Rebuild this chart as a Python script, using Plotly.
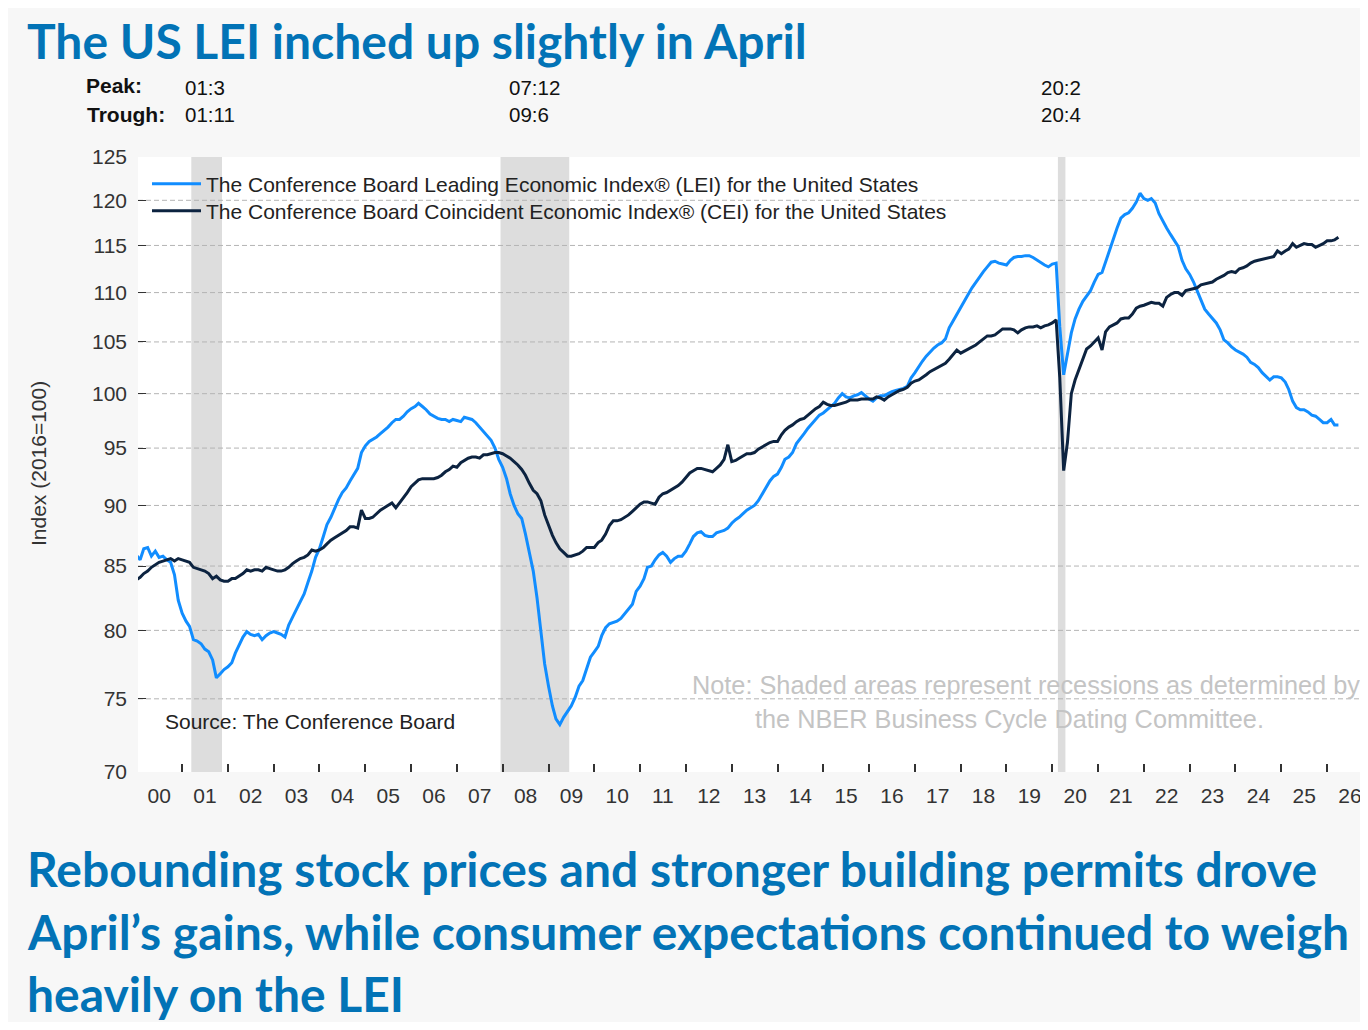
import math
import pandas as pd
import plotly.graph_objects as go

# ---------------- data (monthly, Jan 2000 - Apr 2026) ----------------
lei = [
    85.9, 85.5, 86.4, 86.5, 85.8, 86.2, 85.7, 85.8, 85.5, 85.3, 84.3, 82.3,   # 2000
    81.3, 80.7, 80.3, 79.3, 79.2, 79.0, 78.6, 78.4, 77.8, 76.5, 76.8, 77.1,   # 2001
    77.3, 77.6, 78.3, 78.9, 79.5, 79.9, 79.7, 79.6, 79.7, 79.3, 79.6, 79.8,   # 2002
    79.9, 79.8, 79.7, 79.5, 80.4, 81.0, 81.6, 82.2, 82.8, 83.7, 84.6, 85.7,   # 2003
    86.4, 87.4, 88.4, 89.0, 89.8, 90.5, 91.1, 91.5, 92.1, 92.7, 93.2, 94.6,   # 2004
    95.2, 95.6, 95.8, 96.0, 96.3, 96.6, 96.9, 97.3, 97.6, 97.6, 97.9, 98.3,   # 2005
    98.6, 98.8, 99.1, 98.8, 98.5, 98.1, 97.9, 97.7, 97.6, 97.6, 97.4, 97.6,   # 2006
    97.5, 97.4, 97.8, 97.7, 97.6, 97.3, 96.9, 96.5, 96.0, 95.7, 95.0, 94.0,   # 2007
    93.3, 92.3, 91.0, 90.0, 89.3, 88.9, 87.6, 86.0, 84.6, 82.5, 80.1, 77.5,   # 2008
    75.9, 74.5, 73.6, 73.2, 73.7, 74.1, 74.5, 75.1, 75.9, 76.3, 77.2, 78.0,   # 2009
    78.4, 78.8, 79.6, 80.2, 80.5, 80.6, 80.7, 80.9, 81.3, 81.6, 82.0, 83.0,   # 2010
    83.4, 84.0, 84.9, 85.0, 85.5, 85.9, 86.1, 85.8, 85.3, 85.6, 85.8, 85.8,   # 2011
    86.2, 86.8, 87.4, 87.7, 87.8, 87.5, 87.4, 87.4, 87.7, 87.8, 87.9, 88.1,   # 2012
    88.5, 88.8, 89.0, 89.3, 89.6, 89.8, 90.0, 90.4, 91.0, 91.5, 92.1, 92.5,   # 2013
    92.7, 93.3, 94.0, 94.2, 94.6, 95.4, 95.9, 96.3, 96.8, 97.2, 97.6, 98.0,   # 2014
    98.2, 98.5, 98.8, 99.1, 99.6, 100.0, 99.7, 99.6, 99.8, 99.9, 100.1, 99.8, # 2015
    99.5, 99.3, 99.6, 99.8, 99.8, 100.0, 100.2, 100.3, 100.4, 100.5, 100.7, 101.5,  # 2016
    102.0, 102.6, 103.1, 103.6, 104.0, 104.4, 104.7, 104.9, 105.3, 106.4, 107.1, 107.8,  # 2017
    108.5, 109.2, 109.8, 110.5, 111.1, 111.6, 112.2, 112.7, 113.2, 113.3, 113.1, 113.0,  # 2018
    112.9, 113.4, 113.7, 113.8, 113.8, 113.9, 113.9, 113.7, 113.4, 113.2, 112.9, 112.7,  # 2019
    113.0, 113.1, 106.5, 101.8, 103.8, 105.9, 107.3, 108.3, 109.1, 109.7, 110.2, 111.1,  # 2020
    111.9, 112.1, 113.2, 114.6, 115.6, 116.9, 118.0, 118.4, 118.6, 119.1, 119.8, 120.8,  # 2021
    120.2, 120.0, 120.2, 119.7, 118.5, 117.6, 116.9, 116.2, 115.5, 114.9, 113.4, 112.5,  # 2022
    111.9, 111.1, 110.2, 109.3, 108.3, 107.8, 107.4, 106.9, 106.2, 105.2, 104.9, 104.5,  # 2023
    104.2, 104.0, 103.8, 103.5, 103.0, 102.8, 102.5, 102.0, 101.6, 101.3, 101.6, 101.6,  # 2024
    101.5, 101.1, 100.4, 99.3, 98.7, 98.5, 98.5, 98.3, 98.0, 97.9, 97.6, 97.3,  # 2025
    97.3, 97.6, 97.1, 97.1,                                                     # 2026
]

cei = [
    83.9, 84.1, 84.4, 84.6, 84.9, 85.1, 85.3, 85.4, 85.5, 85.6, 85.4, 85.6,   # 2000
    85.5, 85.4, 85.3, 84.9, 84.8, 84.7, 84.6, 84.4, 84.0, 84.2, 83.9, 83.8,   # 2001
    83.8, 84.0, 84.0, 84.2, 84.4, 84.7, 84.6, 84.7, 84.7, 84.6, 84.9, 84.8,   # 2002
    84.7, 84.6, 84.6, 84.7, 84.9, 85.2, 85.4, 85.6, 85.7, 85.9, 86.3, 86.2,   # 2003
    86.3, 86.5, 86.8, 87.1, 87.3, 87.5, 87.7, 87.9, 88.2, 88.2, 88.1, 89.6,   # 2004
    88.9, 88.9, 89.0, 89.3, 89.6, 89.8, 90.0, 90.2, 89.8, 90.2, 90.6, 91.1,   # 2005
    91.6, 91.9, 92.2, 92.3, 92.3, 92.3, 92.3, 92.4, 92.6, 92.9, 93.1, 93.4,   # 2006
    93.3, 93.7, 93.9, 94.1, 94.2, 94.2, 94.1, 94.4, 94.4, 94.5, 94.6, 94.6,   # 2007
    94.5, 94.3, 94.1, 93.8, 93.5, 93.1, 92.6, 91.9, 91.3, 91.0, 90.4, 89.2,   # 2008
    88.3, 87.5, 86.9, 86.4, 86.1, 85.8, 85.8, 85.9, 86.0, 86.2, 86.5, 86.5,   # 2009
    86.5, 86.9, 87.1, 87.6, 88.3, 88.7, 88.7, 88.8, 89.0, 89.2, 89.5, 89.8,   # 2010
    90.1, 90.3, 90.3, 90.2, 90.1, 90.7, 91.0, 91.1, 91.3, 91.5, 91.7, 92.0,   # 2011
    92.4, 92.8, 93.0, 93.2, 93.2, 93.1, 93.0, 92.9, 93.2, 93.5, 94.0, 95.3,   # 2012
    93.8, 93.9, 94.1, 94.3, 94.5, 94.5, 94.6, 94.9, 95.1, 95.3, 95.5, 95.6,   # 2013
    95.6, 96.2, 96.6, 96.9, 97.1, 97.4, 97.6, 97.7, 98.0, 98.3, 98.6, 98.8,   # 2014
    99.2, 99.0, 98.9, 98.9, 99.0, 99.1, 99.2, 99.4, 99.4, 99.4, 99.5, 99.5,   # 2015
    99.5, 99.5, 99.7, 99.6, 99.4, 99.7, 99.9, 100.1, 100.3, 100.4, 100.6, 101.0,  # 2016
    101.2, 101.3, 101.5, 101.8, 102.1, 102.3, 102.5, 102.7, 102.9, 103.3, 103.8, 104.2,  # 2017
    103.9, 104.1, 104.3, 104.5, 104.7, 105.0, 105.3, 105.6, 105.6, 105.7, 106.0, 106.3,  # 2018
    106.3, 106.3, 106.2, 105.9, 106.2, 106.4, 106.5, 106.5, 106.6, 106.4, 106.6, 106.7,  # 2019
    106.9, 107.2, 101.5, 93.0, 95.5, 100.0, 101.3, 102.3, 103.5, 104.3, 104.6, 105.0,   # 2020
    105.4, 104.2, 106.0, 106.5, 106.7, 106.9, 107.3, 107.4, 107.4, 107.8, 108.4, 108.6,  # 2021
    108.7, 108.9, 109.0, 108.9, 108.9, 108.6, 109.5, 109.8, 110.0, 110.0, 109.7, 110.2,  # 2022
    110.3, 110.4, 110.5, 110.8, 110.9, 111.0, 111.1, 111.4, 111.6, 111.8, 112.1, 112.2,  # 2023
    112.1, 112.5, 112.6, 112.8, 113.1, 113.3, 113.4, 113.5, 113.6, 113.7, 113.8, 114.4,  # 2024
    114.1, 114.4, 114.6, 115.2, 114.8, 115.0, 115.2, 115.1, 115.1, 114.8, 115.0, 115.2,  # 2025
    115.5, 115.5, 115.6, 115.9,                                                          # 2026
]

months = pd.date_range("2000-01-01", periods=len(lei), freq="MS")

year_labels = ["00", "01", "02", "03", "04", "05", "06", "07", "08", "09",
               "10", "11", "12", "13", "14", "15", "16", "17", "18", "19",
               "20", "21", "22", "23", "24", "25", "26"]
year_label_pos = [f"{2000 + k}-07-02" for k in range(len(year_labels))]
year_ticks = [f"{2000 + k}-01-01" for k in range(1, len(year_labels))]

y_ticks = [70, 75, 80, 85, 90, 95, 100, 105, 110, 115, 120, 125]

recessions = [("2001-03-15", "2001-11-15"),
              ("2007-12-15", "2009-06-15"),
              ("2020-02-15", "2020-04-15")]
peak_labels = ["01:3", "07:12", "20:2"]
trough_labels = ["01:11", "09:6", "20:4"]

lei_name = "The Conference Board Leading Economic Index® (LEI) for the United States"
cei_name = "The Conference Board Coincident Economic Index® (CEI) for the United States"

# ---------------- layout helpers (page coordinates; page has an 8px body margin) ----------------
OFF = 8
W, H = 1368 - OFF, 1030 - 2 * OFF
L, R, T, B = 138, 1368, 157, 772          # plot area in page pixels


def px(x):
    return (x - L) / (R - L)


def py(y):
    return (B - y) / (B - T)


BLUE = "#118dff"
NAVY = "#0c2340"
TITLE_BLUE = "#0273b6"
TXT = "#222222"
FS = 21

fig = go.Figure()
fig.add_trace(go.Scatter(x=months, y=lei, name=lei_name, mode="lines",
                         line=dict(color=BLUE, width=3), legend="legend"))
fig.add_trace(go.Scatter(x=months, y=cei, name=cei_name, mode="lines",
                         line=dict(color=NAVY, width=3), legend="legend2"))

for x0, x1 in recessions:
    fig.add_vrect(x0=x0, x1=x1, fillcolor="#dddddd", line_width=0,
                  layer="below", opacity=1)
for v in y_ticks[1:-1]:
    fig.add_hline(y=v, line=dict(color="#b4b4b4", width=1, dash="5px,3px"),
                  layer="below")

ann = []
head_font = dict(family="Lato", size=48, color=TITLE_BLUE, weight=700)
ann.append(dict(text="The US LEI inched up slightly in April", x=px(25), y=py(40),
                xref="paper", yref="paper", xanchor="left", yanchor="middle",
                showarrow=False, font=head_font))
bottom_lines = ["Rebounding stock prices and stronger building permits drove",
                "April’s gains, while consumer expectations continued to weigh",
                "heavily on the LEI"]
for k, line in enumerate(bottom_lines):
    ann.append(dict(text=line, x=px(25), y=py(868 + 63 * k), xref="paper", yref="paper",
                    xanchor="left", yanchor="middle", showarrow=False, font=head_font))

lab_font = dict(family="Liberation Sans", size=FS, color="#111111")
val_font = dict(family="Liberation Sans", size=20.5, color="#111111")
ann.append(dict(text="<b>Peak:</b>", x=px(84), y=py(86), xref="paper", yref="paper",
                xanchor="left", yanchor="middle", showarrow=False, font=lab_font))
ann.append(dict(text="<b>Trough:</b>", x=px(85), y=py(114), xref="paper", yref="paper",
                xanchor="left", yanchor="middle", showarrow=False, font=lab_font))
for xp, pk, tr in zip([183, 507, 1039], peak_labels, trough_labels):
    ann.append(dict(text=pk, x=px(xp), y=py(88), xref="paper", yref="paper",
                    xanchor="left", yanchor="middle", showarrow=False, font=val_font))
    ann.append(dict(text=tr, x=px(xp), y=py(115), xref="paper", yref="paper",
                    xanchor="left", yanchor="middle", showarrow=False, font=val_font))

ann.append(dict(text="Index (2016=100)", x=px(38), y=py(464), xref="paper", yref="paper",
                xanchor="center", yanchor="middle", textangle=-90, showarrow=False,
                font=dict(family="Liberation Sans", size=FS, color="#333333")))
ann.append(dict(text="Source: The Conference Board", x=px(163), y=py(721),
                xref="paper", yref="paper", xanchor="left", yanchor="middle",
                showarrow=False, font=dict(family="Liberation Sans", size=FS, color=TXT)))
note_font = dict(family="Liberation Sans", size=25.3, color="#c4c4c4")
ann.append(dict(text="Note: Shaded areas represent recessions as determined by",
                x=px(690), y=py(685), xref="paper", yref="paper", xanchor="left",
                yanchor="middle", showarrow=False, font=note_font))
ann.append(dict(text="the NBER Business Cycle Dating Committee.",
                x=px(753), y=py(719), xref="paper", yref="paper", xanchor="left",
                yanchor="middle", showarrow=False, font=note_font))

leg_common = dict(xanchor="left", yanchor="middle", bgcolor="rgba(0,0,0,0)",
                  borderwidth=0, itemwidth=49,
                  font=dict(family="Liberation Sans", size=FS, color=TXT))

fig.update_layout(
    width=W, height=H, autosize=False,
    margin=dict(l=L - OFF, r=0, t=T - OFF, b=H - (B - OFF), pad=0),
    paper_bgcolor="#f7f7f7", plot_bgcolor="#ffffff",
    font=dict(family="Liberation Sans", color="#333333"),
    showlegend=True,
    legend=dict(x=px(147), y=py(184), **leg_common),
    legend2=dict(x=px(147), y=py(211), **leg_common),
    annotations=ann,
    xaxis=dict(type="date", range=["2000-01-15", "2026-11-23"],
               tickmode="array", tickvals=year_label_pos, ticktext=year_labels,
               ticks="", showgrid=False, zeroline=False, showline=False,
               tickfont=dict(size=FS, color="#333333"), ticklabelstandoff=9,
               minor=dict(tickmode="array", tickvals=year_ticks, ticks="inside",
                          ticklen=8, tickwidth=1.5, tickcolor="#333333",
                          showgrid=False)),
    yaxis=dict(type="log", range=[math.log10(70), math.log10(125)],
               tickmode="array", tickvals=y_ticks, ticktext=[str(v) for v in y_ticks],
               ticks="inside", ticklen=8, tickwidth=1.2, tickcolor="#333333",
               showgrid=False, zeroline=False, showline=False,
               tickfont=dict(size=FS, color="#333333"), ticklabelstandoff=10),
)

fig.write_html("out.html")
